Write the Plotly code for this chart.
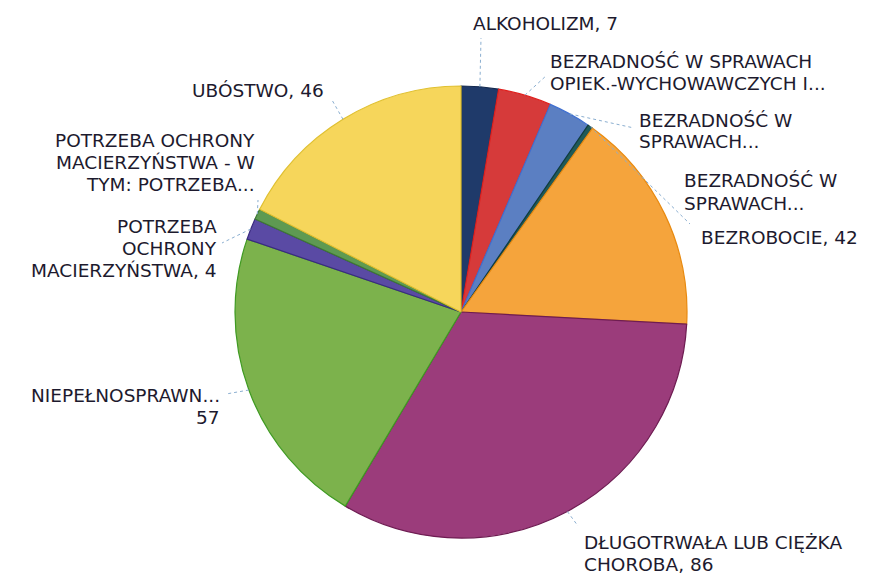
import math
import plotly.graph_objects as go

labels = [
    "ALKOHOLIZM",
    "BEZRADNOŚĆ W SPRAWACH OPIEK.-WYCHOWAWCZYCH I...",
    "BEZRADNOŚĆ W SPRAWACH...",
    "BEZRADNOŚĆ W SPRAWACH... ",
    "BEZROBOCIE",
    "DŁUGOTRWAŁA LUB CIĘŻKA CHOROBA",
    "NIEPEŁNOSPRAWN...",
    "POTRZEBA OCHRONY MACIERZYŃSTWA",
    "POTRZEBA OCHRONY MACIERZYŃSTWA - W TYM: POTRZEBA...",
    "UBÓSTWO",
]
values = [7, 10, 8, 1, 42, 86, 57, 4, 2, 46]
colors = ["#1f3a6a", "#d63a3a", "#5b7fc2", "#1f5a58", "#f5a43c",
          "#9b3c7b", "#7cb24c", "#5a4aa4", "#5e9a52", "#f6d65b"]
edge_colors = ["#142a50", "#e0201e", "#3f6fd0", "#123c3a", "#e88a10",
               "#6e1c52", "#3f9a22", "#3a2a80", "#3e7a32", "#e0c030"]

# wrapped label lines as drawn
label_lines = [
    ["ALKOHOLIZM, 7"],
    ["BEZRADNOŚĆ W SPRAWACH", "OPIEK.-WYCHOWAWCZYCH I..."],
    ["BEZRADNOŚĆ W", "SPRAWACH..."],
    ["BEZRADNOŚĆ W", "SPRAWACH..."],
    ["BEZROBOCIE, 42"],
    ["DŁUGOTRWAŁA LUB CIĘŻKA", "CHOROBA, 86"],
    ["NIEPEŁNOSPRAWN...", "57"],
    ["POTRZEBA", "OCHRONY", "MACIERZYŃSTWA, 4"],
    ["POTRZEBA OCHRONY", "MACIERZYŃSTWA - W", "TYM: POTRZEBA..."],
    ["UBÓSTWO, 46"],
]
# (x px, first line y px, anchor, line gap px)
label_pos = [(471, 23, "left", 22), (548, 61, "left", 22), (637, 120, "left", 22),
             (682, 181, "left", 22), (699, 238, "left", 22), (582, 542, "left", 22),
             (222, 395, "right", 22), (219, 226, "right", 22), (257, 140, "right", 22),
             (326, 90, "right", 22)]
leader_end = [(481, 38), (547, 75), (634, 128), (690, 224), None,
              (578, 526), (226, 394), (222, 243), (258, 200), (332, 100)]

W, H = 873, 574
cx, cy, R = 461, 312, 226

fig = go.Figure(go.Pie(
    labels=labels, values=values, sort=False, direction="clockwise",
    rotation=0, textinfo="none", hoverinfo="label+value",
    marker=dict(colors=colors, line=dict(color=edge_colors, width=1.2)),
    domain=dict(x=[(cx - R) / W, (cx + R) / W],
                y=[1 - (cy + R) / H, 1 - (cy - R) / H]),
    showlegend=False,
))

total = sum(values)
cum = 0
annotations = []
shapes = []
for i, v in enumerate(values):
    mid = (cum + v / 2) / total * 2 * math.pi
    cum += v
    px = cx + R * math.sin(mid)
    py = cy - R * math.cos(mid)
    if leader_end[i] is not None:
        ex, ey = leader_end[i]
        shapes.append(dict(type="line", xref="paper", yref="paper",
                           x0=px / W, y0=1 - py / H, x1=ex / W, y1=1 - ey / H,
                           line=dict(color="#8aaed0", width=1, dash="dot")))
    lx, ly, anc, gap = label_pos[i]
    for j, line in enumerate(label_lines[i]):
        annotations.append(dict(text=line, x=lx / W, y=1 - (ly + j * gap) / H,
                                xref="paper", yref="paper", xanchor=anc,
                                yanchor="middle", align=anc, showarrow=False,
                                font=dict(family="DejaVu Sans", size=18.5,
                                          color="#1d1a2e")))

fig.update_layout(
    width=W, height=H, margin=dict(l=0, r=0, t=0, b=0),
    paper_bgcolor="white", plot_bgcolor="white",
    annotations=annotations, shapes=shapes,
)
fig.write_html("out.html", config={"displayModeBar": False},
               post_script="document.body.style.margin='0px';")
